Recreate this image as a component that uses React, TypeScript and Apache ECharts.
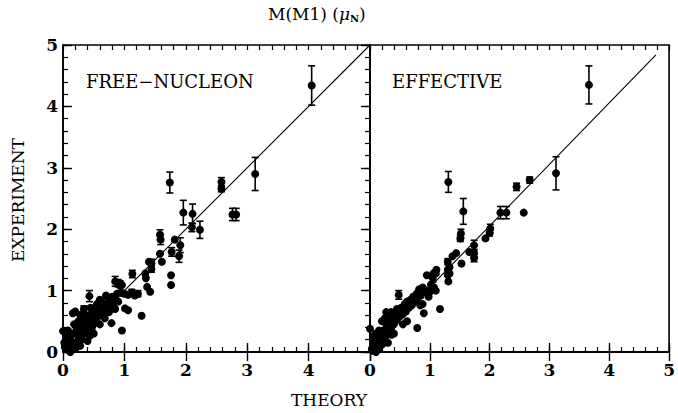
import React, { useEffect, useRef } from "react";
import * as echarts from "echarts";

// [theory, experiment, error] ; error 0 = no bar
const freeNucleon: number[][] = [
  [4.05, 4.34, 0.32], [3.13, 2.9, 0.27], [2.76, 2.24, 0.1], [2.82, 2.24, 0.1],
  [2.58, 2.77, 0.07], [2.58, 2.66, 0.05], [1.74, 2.76, 0.17], [1.96, 2.27, 0.2],
  [2.11, 2.25, 0.16], [2.1, 2.03, 0.07], [2.23, 1.99, 0.14], [1.91, 1.74, 0.12],
  [1.89, 1.56, 0.1], [1.82, 1.83, 0], [1.77, 1.63, 0.07], [1.76, 1.25, 0],
  [1.76, 1.09, 0], [1.58, 1.91, 0.08], [1.59, 1.83, 0.08], [1.58, 1.6, 0],
  [1.61, 1.47, 0], [1.44, 1.44, 0.07], [1.44, 1.35, 0.05], [1.4, 1.47, 0],
  [1.34, 1.28, 0], [1.35, 1.2, 0], [1.37, 1.06, 0], [1.42, 0.98, 0],
  [1.13, 1.27, 0.06], [1.28, 0.59, 0], [0.96, 1.09, 0], [0.96, 0.96, 0],
  [0.85, 1.15, 0.08], [0.93, 1.08, 0.08], [1.0, 0.95, 0], [1.06, 0.93, 0],
  [1.12, 0.97, 0.05], [1.17, 0.92, 0], [1.22, 0.95, 0.05], [1.06, 0.68, 0],
  [1.01, 0.71, 0], [0.79, 0.47, 0], [0.96, 0.35, 0], [0.43, 0.91, 0.09],
  [0.2, 0.66, 0], [0.34, 0.7, 0.05], [0.0, 0.34, 0], [0.44, 0.27, 0],
  [0.9, 1.12, 0.06],
  [0.05, 0.05, 0], [0.08, 0.12, 0], [0.1, 0.02, 0], [0.12, 0.2, 0], [0.15, 0.08, 0],
  [0.18, 0.3, 0], [0.2, 0.15, 0], [0.22, 0.4, 0], [0.25, 0.25, 0], [0.28, 0.1, 0],
  [0.3, 0.35, 0], [0.32, 0.5, 0], [0.35, 0.3, 0], [0.38, 0.45, 0], [0.4, 0.55, 0],
  [0.42, 0.38, 0], [0.45, 0.5, 0], [0.48, 0.62, 0], [0.5, 0.45, 0], [0.52, 0.7, 0],
  [0.55, 0.55, 0], [0.58, 0.75, 0], [0.6, 0.6, 0], [0.62, 0.78, 0], [0.65, 0.68, 0],
  [0.68, 0.55, 0], [0.7, 0.72, 0], [0.72, 0.65, 0], [0.75, 0.85, 0], [0.78, 0.8, 0],
  [0.8, 0.9, 0], [0.82, 0.72, 0], [0.85, 0.88, 0], [0.88, 0.95, 0], [0.9, 0.82, 0],
  [0.3, 0.2, 0], [0.15, 0.3, 0], [0.1, 0.25, 0], [0.05, 0.3, 0], [0.02, 0.15, 0],
  [0.25, 0.5, 0], [0.35, 0.6, 0], [0.45, 0.72, 0], [0.55, 0.78, 0], [0.6, 0.45, 0],
  [0.5, 0.3, 0], [0.4, 0.18, 0], [0.2, 0.05, 0], [0.12, 0.0, 0], [0.65, 0.8, 0],
  [0.7, 0.92, 0], [0.75, 0.65, 0], [0.85, 0.7, 0], [0.18, 0.45, 0], [0.28, 0.6, 0],
  [0.08, 0.35, 0], [0.6, 0.85, 0], [0.26, 0.38, 0], [0.16, 0.63, 0],
  [0.03, 0.08, 0], [0.06, 0.2, 0], [0.14, 0.14, 0], [0.23, 0.32, 0], [0.33, 0.42, 0],
  [0.43, 0.6, 0], [0.53, 0.6, 0], [0.63, 0.7, 0], [0.73, 0.78, 0], [0.83, 0.83, 0],
  [0.37, 0.52, 0], [0.47, 0.4, 0], [0.57, 0.67, 0], [0.67, 0.62, 0], [0.77, 0.72, 0],
];

const effective: number[][] = [
  [3.66, 4.35, 0.31], [3.11, 2.91, 0.27], [2.57, 2.27, 0], [2.67, 2.8, 0.05],
  [2.45, 2.69, 0.06], [2.18, 2.27, 0.1], [2.28, 2.27, 0.1], [2.01, 2.01, 0.07],
  [2.0, 1.94, 0.05], [1.93, 1.85, 0], [1.74, 1.74, 0.08], [1.74, 1.61, 0.06],
  [1.74, 1.53, 0.06], [1.66, 1.63, 0], [1.56, 2.29, 0.21], [1.31, 2.77, 0.17],
  [1.52, 1.93, 0.07], [1.51, 1.85, 0.05], [1.44, 1.61, 0], [1.38, 1.56, 0],
  [1.53, 1.44, 0], [1.3, 1.47, 0.05], [1.3, 1.34, 0], [1.3, 1.25, 0],
  [1.31, 1.15, 0], [1.33, 1.28, 0], [1.11, 1.34, 0], [1.1, 1.28, 0],
  [1.05, 1.2, 0.06], [1.02, 1.1, 0], [1.07, 1.05, 0], [1.0, 0.98, 0],
  [1.1, 1.0, 0], [0.95, 1.0, 0], [0.98, 0.9, 0], [1.17, 0.7, 0],
  [0.9, 0.63, 0], [0.84, 0.76, 0], [0.88, 0.78, 0], [0.79, 0.39, 0],
  [0.48, 0.93, 0.07], [0.0, 0.38, 0],
  [0.95, 1.25, 0], [1.06, 1.28, 0], [1.33, 1.38, 0],
  [0.05, 0.02, 0], [0.08, 0.1, 0], [0.1, 0.0, 0], [0.12, 0.18, 0], [0.15, 0.06, 0],
  [0.18, 0.28, 0], [0.2, 0.12, 0], [0.22, 0.35, 0], [0.25, 0.22, 0], [0.28, 0.42, 0],
  [0.3, 0.3, 0], [0.32, 0.48, 0], [0.35, 0.38, 0], [0.38, 0.55, 0], [0.4, 0.45, 0],
  [0.42, 0.62, 0], [0.45, 0.52, 0], [0.48, 0.68, 0], [0.5, 0.58, 0], [0.52, 0.72, 0],
  [0.55, 0.62, 0], [0.58, 0.78, 0], [0.6, 0.66, 0], [0.62, 0.82, 0], [0.65, 0.72, 0],
  [0.68, 0.85, 0], [0.7, 0.76, 0], [0.72, 0.9, 0], [0.75, 0.82, 0], [0.78, 0.95, 0],
  [0.8, 0.88, 0], [0.82, 1.02, 0], [0.85, 0.92, 0], [0.88, 1.05, 0], [0.9, 0.98, 0],
  [0.05, 0.25, 0], [0.1, 0.3, 0], [0.15, 0.35, 0], [0.2, 0.5, 0], [0.25, 0.55, 0],
  [0.3, 0.6, 0], [0.35, 0.65, 0], [0.4, 0.3, 0], [0.3, 0.15, 0], [0.2, 0.22, 0],
  [0.12, 0.08, 0], [0.06, 0.15, 0], [0.55, 0.45, 0], [0.62, 0.5, 0], [0.45, 0.7, 0],
  [0.03, 0.05, 0], [0.14, 0.22, 0], [0.24, 0.3, 0], [0.34, 0.5, 0], [0.44, 0.58, 0],
  [0.54, 0.7, 0], [0.64, 0.78, 0], [0.74, 0.88, 0], [0.36, 0.28, 0], [0.27, 0.65, 0],
];

const freeLine: number[][] = [[0, 0], [5, 5]];
const effLine: number[][] = [[0, 0.05], [4.78, 4.84]];
const tickValues: number[] = [0, 1, 2, 3, 4, 5];
const minorStep = 0.2;

const FONT = "DejaVu Serif";

function errorSeries(data: number[][], xIdx: number, yIdx: number) {
  return {
    type: "custom",
    xAxisIndex: xIdx,
    yAxisIndex: yIdx,
    clip: true,
    z: 3,
    data: data.filter((d) => d[2] > 0),
    encode: { x: 0, y: 1 },
    renderItem: (params: any, api: any) => {
      const x = api.value(0);
      const y = api.value(1);
      const e = api.value(2);
      const top = api.coord([x, y + e]);
      const bot = api.coord([x, y - e]);
      const hw = 3.5;
      const st = { stroke: "#000", lineWidth: 1.6 };
      return {
        type: "group",
        children: [
          { type: "line", shape: { x1: top[0], y1: top[1], x2: bot[0], y2: bot[1] }, style: st },
          { type: "line", shape: { x1: top[0] - hw, y1: top[1], x2: top[0] + hw, y2: top[1] }, style: st },
          { type: "line", shape: { x1: bot[0] - hw, y1: bot[1], x2: bot[0] + hw, y2: bot[1] }, style: st },
        ],
      };
    },
  };
}

function valAxis(extra: any) {
  return {
    type: "value",
    min: tickValues[0],
    max: tickValues[tickValues.length - 1],
    interval: 1,
    splitLine: { show: false },
    axisLine: { show: true, lineStyle: { color: "#000", width: 1.6 } },
    axisTick: { show: true, inside: true, length: 9, lineStyle: { color: "#000", width: 1.4 } },
    axisLabel: { show: false },
    ...extra,
  };
}

function minorAxis(extra: any) {
  return {
    type: "value",
    min: tickValues[0],
    max: tickValues[tickValues.length - 1],
    interval: minorStep,
    splitLine: { show: false },
    axisLine: { show: false },
    axisTick: { show: true, inside: true, length: 5, lineStyle: { color: "#000", width: 1.2 } },
    axisLabel: { show: false },
    ...extra,
  };
}

const labelStyle = { color: "#000", fontFamily: FONT, fontSize: 17, fontWeight: "bold" };

export default function App() {
  const ref = useRef<HTMLDivElement>(null);
  useEffect(() => {
    if (!ref.current) return;
    const chart = echarts.init(ref.current, undefined, { renderer: "svg" });
    chart.setOption({
      animation: false,
      backgroundColor: "#fff",
      grid: [
        { left: 63, top: 45, width: 307, height: 307, show: true, borderColor: "#000", borderWidth: 1.6 },
        { left: 370, top: 45, width: 306, height: 307, show: true, borderColor: "#000", borderWidth: 1.6 },
      ],
      xAxis: [
        valAxis({ gridIndex: 0, position: "bottom", axisLabel: { show: true, margin: 9, showMaxLabel: false, ...labelStyle } }),
        valAxis({ gridIndex: 1, position: "bottom", axisLabel: { show: true, margin: 9, ...labelStyle } }),
        valAxis({ gridIndex: 0, position: "top" }),
        valAxis({ gridIndex: 1, position: "top" }),
        minorAxis({ gridIndex: 0, position: "bottom" }),
        minorAxis({ gridIndex: 1, position: "bottom" }),
        minorAxis({ gridIndex: 0, position: "top" }),
        minorAxis({ gridIndex: 1, position: "top" }),
      ],
      yAxis: [
        valAxis({ gridIndex: 0, position: "left", axisLabel: { show: true, margin: 5, ...labelStyle } }),
        valAxis({ gridIndex: 1, position: "right" }),
        minorAxis({ gridIndex: 0, position: "left" }),
        minorAxis({ gridIndex: 1, position: "right" }),
      ],
      graphic: [
        {
          type: "text",
          left: 268,
          top: 5,
          style: {
            text: "M(M1) ({i|μ}{s|N})",
            fill: "#000",
            fontFamily: FONT,
            fontSize: 17,
            rich: {
              i: { fontSize: 17, fontFamily: FONT, fontStyle: "italic" },
              s: { fontSize: 10, fontFamily: FONT, fontWeight: "bold", padding: [9, 0, 0, 0] },
            },
          },
        },
        {
          type: "text",
          left: 86,
          top: 72,
          style: { text: "FREE−NUCLEON", fill: "#000", fontFamily: FONT, fontSize: 18 },
        },
        {
          type: "text",
          left: 392,
          top: 72,
          style: { text: "EFFECTIVE", fill: "#000", fontFamily: FONT, fontSize: 18 },
        },
        {
          type: "text",
          left: 291,
          top: 391,
          style: { text: "THEORY", fill: "#000", fontFamily: FONT, fontSize: 17 },
        },
        {
          type: "text",
          x: 18,
          y: 200,
          rotation: Math.PI / 2,
          style: { text: "EXPERIMENT", fill: "#000", fontFamily: FONT, fontSize: 17, align: "center", verticalAlign: "middle" },
        },
      ],
      series: [
        {
          type: "line",
          xAxisIndex: 0,
          yAxisIndex: 0,
          data: freeLine,
          symbol: "none",
          lineStyle: { color: "#000", width: 1.1 },
        },
        {
          type: "line",
          xAxisIndex: 1,
          yAxisIndex: 1,
          data: effLine,
          symbol: "none",
          lineStyle: { color: "#000", width: 1.1 },
        },
        errorSeries(freeNucleon, 0, 0),
        errorSeries(effective, 1, 1),
        {
          type: "scatter",
          xAxisIndex: 0,
          yAxisIndex: 0,
          data: freeNucleon.map((d) => [d[0], d[1]]),
          symbol: "circle",
          symbolSize: 8,
          itemStyle: { color: "#000", opacity: 1 },
        },
        {
          type: "scatter",
          xAxisIndex: 1,
          yAxisIndex: 1,
          data: effective.map((d) => [d[0], d[1]]),
          symbol: "circle",
          symbolSize: 8,
          itemStyle: { color: "#000", opacity: 1 },
        },
      ],
    });
    return () => chart.dispose();
  }, []);
  return (
    <div
      ref={ref}
      style={{ position: "fixed", left: 0, top: 0, width: 678, height: 413, background: "#fff" }}
    />
  );
}
